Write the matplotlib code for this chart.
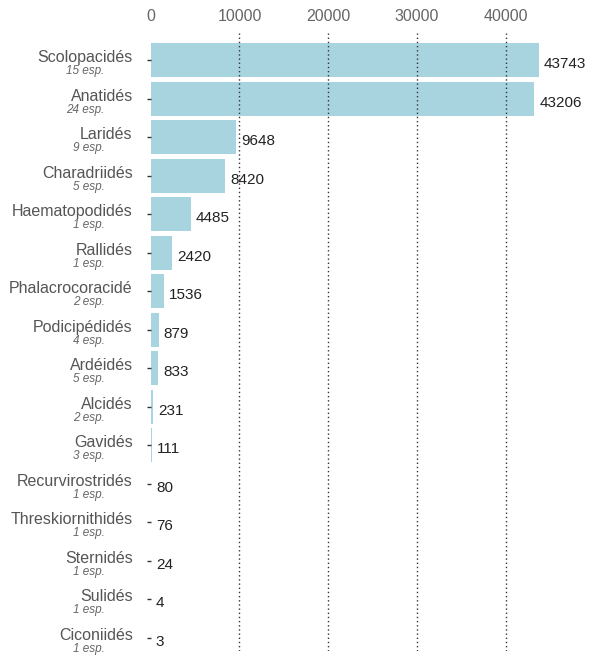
import matplotlib.pyplot as plt

# Familles d'oiseaux et effectifs
families = ["Scolopacidés", "Anatidés", "Laridés", "Charadriidés", "Haematopodidés",
            "Rallidés", "Phalacrocoracidé", "Podicipédidés", "Ardéidés", "Alcidés",
            "Gavidés", "Recurvirostridés", "Threskiornithidés", "Sternidés", "Sulidés",
            "Ciconiidés"]
species = ["15 esp.", "24 esp.", "9 esp.", "5 esp.", "1 esp.", "1 esp.", "2 esp.",
           "4 esp.", "5 esp.", "2 esp.", "3 esp.", "1 esp.", "1 esp.", "1 esp.",
           "1 esp.", "1 esp."]
counts = [43743, 43206, 9648, 8420, 4485, 2420, 1536, 879, 833, 231, 111, 80, 76, 24, 4, 3]
xticks = [0, 10000, 20000, 30000, 40000]

BAR_COLOR = "#a8d4e0"
FONT = "Liberation Sans"

fig = plt.figure(figsize=(5.92, 6.57), dpi=100)
ax = fig.add_axes([0.2546, 0.009, 0.6746, 0.9406])

y_pos = list(range(len(families)))
ax.barh(y_pos, counts, height=0.88, color=BAR_COLOR, zorder=1)

ax.set_xlim(0, 45000)
ax.set_ylim(15.35, -0.70)

# grille pointillée au-dessus des barres (pas de ligne à 0)
ax.set_xticks(xticks)
for x in xticks[1:]:
    ax.axvline(x, color="#333333", linestyle=(0, (1, 2)), linewidth=1, zorder=3)
ax.xaxis.tick_top()
ax.tick_params(axis="x", length=0, pad=6.5, labelsize=11.5, labelcolor="#666666")
for lab in ax.get_xticklabels():
    lab.set_fontfamily(FONT)

ax.set_yticks(y_pos)
ax.set_yticklabels([])
ax.tick_params(axis="y", length=3, width=1, color="#333333")

for s in ax.spines.values():
    s.set_visible(False)

ytr = ax.get_yaxis_transform()
for i, (name, sp, c) in enumerate(zip(families, species, counts)):
    ax.annotate(name, xy=(0, i), xycoords=ytr, xytext=(-18, -2),
                textcoords="offset pixels", ha="right", va="baseline",
                fontsize=11.5, color="#555555", family=FONT)
    ax.annotate(sp, xy=(0, i), xycoords=ytr, xytext=(-46, -14),
                textcoords="offset pixels", ha="right", va="baseline",
                fontsize=8.5, color="#666666", style="italic", family=FONT)
    ax.annotate(str(c), xy=(c, i), xycoords="data", xytext=(5, -4),
                textcoords="offset pixels", ha="left", va="center",
                fontsize=11, color="#222222", family=FONT, annotation_clip=False)

fig.savefig("out.png", dpi=100)
